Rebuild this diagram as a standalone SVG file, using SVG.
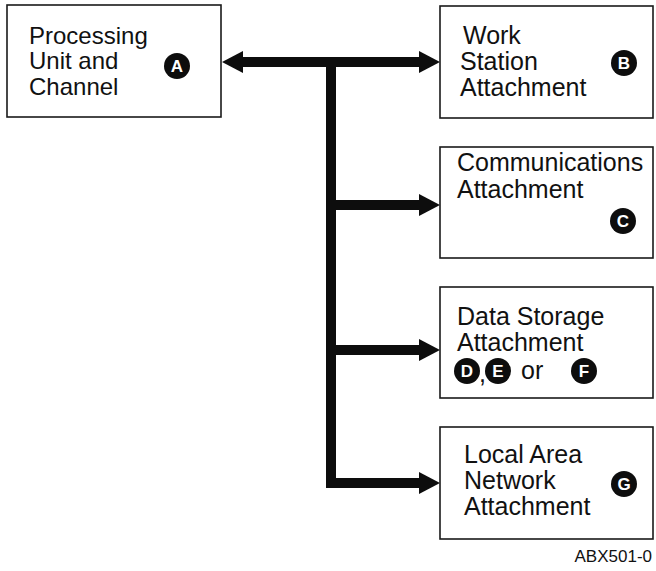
<svg xmlns="http://www.w3.org/2000/svg" width="656" height="571" viewBox="0 0 656 571">
  <style>
    .box { fill: #ffffff; stroke: #1a1a1a; stroke-width: 1.6; }
    .lbl { font-family: "Liberation Sans", Arial, sans-serif; font-size: 25px; fill: #111111; }
    .lbl-a { font-size: 24px; }
    .tag { fill: #0d0d0d; }
    .tagtxt { font-family: "Liberation Sans", Arial, sans-serif; font-size: 17px; font-weight: bold; fill: #ffffff; text-anchor: middle; }
    .bus { fill: #0d0d0d; }
    .code { font-family: "Liberation Sans", Arial, sans-serif; font-size: 17px; fill: #111111; }
  </style>

  <rect width="656" height="571" fill="#ffffff"/>

  <!-- connectors: bus trunk with arrowheads -->
  <g id="connectors" class="bus">
    <!-- arrowhead into the processing unit -->
    <polygon points="222,62 243,51 243,73"/>
    <!-- top bar -->
    <rect x="242" y="57" width="180" height="10"/>
    <!-- trunk -->
    <rect x="326" y="57" width="10" height="431"/>
    <!-- branches -->
    <rect x="335" y="200" width="86" height="10"/>
    <rect x="335" y="345" width="86" height="10"/>
    <rect x="335" y="478" width="86" height="10"/>
    <!-- arrowheads into attachments -->
    <polygon points="440,62 419,51 419,73"/>
    <polygon points="440,205 419,194 419,216"/>
    <polygon points="440,350 419,339 419,361"/>
    <polygon points="440,483 419,472 419,494"/>
  </g>

  <g id="node-a">
    <rect class="box" x="7" y="5" width="214" height="112"/>
    <text class="lbl lbl-a" x="29" y="44">Processing</text>
    <text class="lbl lbl-a" x="29" y="69">Unit and</text>
    <text class="lbl lbl-a" x="29" y="95">Channel</text>
    <circle class="tag" cx="177" cy="66" r="13"/>
    <text class="tagtxt" x="177" y="72">A</text>
  </g>

  <g id="node-b">
    <rect class="box" x="440" y="6" width="213" height="112"/>
    <text class="lbl" x="463" y="44">Work</text>
    <text class="lbl" x="460" y="70">Station</text>
    <text class="lbl" x="460" y="96">Attachment</text>
    <circle class="tag" cx="624" cy="63" r="13"/>
    <text class="tagtxt" x="624" y="69">B</text>
  </g>

  <g id="node-c">
    <rect class="box" x="440" y="147" width="213" height="111"/>
    <text class="lbl" x="457" y="171">Communications</text>
    <text class="lbl" x="457" y="198">Attachment</text>
    <circle class="tag" cx="623" cy="221" r="13"/>
    <text class="tagtxt" x="623" y="227">C</text>
  </g>

  <g id="node-d">
    <rect class="box" x="440" y="287" width="213" height="111"/>
    <text class="lbl" x="457" y="325">Data Storage</text>
    <text class="lbl" x="457" y="351">Attachment</text>
    <circle class="tag" cx="467" cy="371" r="13"/>
    <text class="tagtxt" x="467" y="377">D</text>
    <text class="lbl" x="479" y="382" font-size="18px">,</text>
    <circle class="tag" cx="498" cy="371" r="13"/>
    <text class="tagtxt" x="498" y="377">E</text>
    <text class="lbl" x="521" y="379">or</text>
    <circle class="tag" cx="584" cy="371" r="13"/>
    <text class="tagtxt" x="584" y="377">F</text>
  </g>

  <g id="node-g">
    <rect class="box" x="440" y="427" width="213" height="112"/>
    <text class="lbl" x="464" y="463">Local Area</text>
    <text class="lbl" x="464" y="489">Network</text>
    <text class="lbl" x="464" y="515">Attachment</text>
    <circle class="tag" cx="624" cy="484" r="13"/>
    <text class="tagtxt" x="624" y="490">G</text>
  </g>

  <text class="code" x="652" y="562" text-anchor="end">ABX501-0</text>
</svg>
